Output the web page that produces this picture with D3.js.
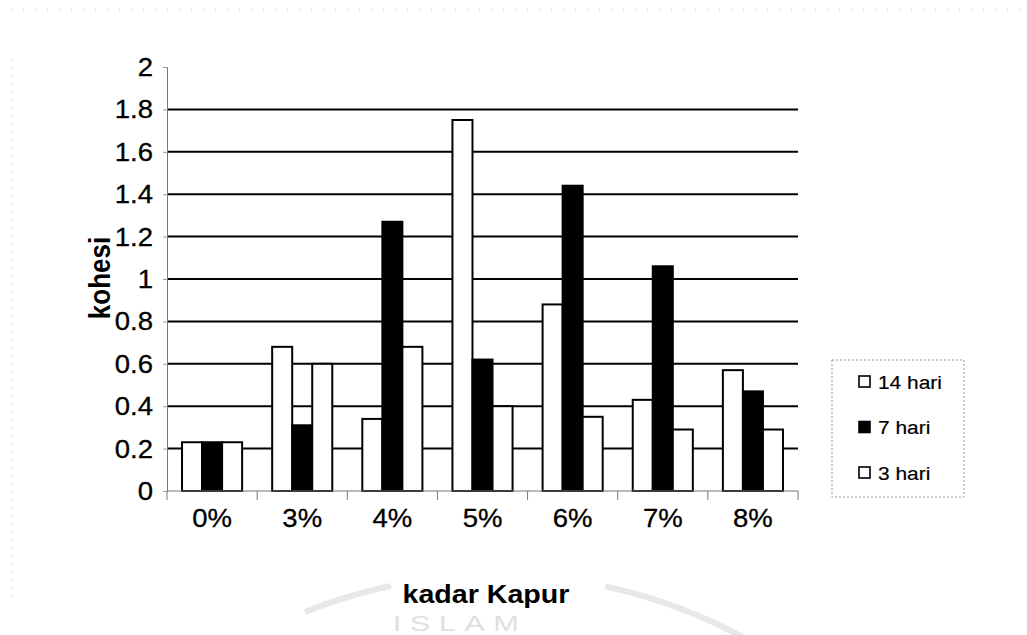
<!DOCTYPE html>
<html>
<head>
<meta charset="utf-8">
<script src="https://cdn.jsdelivr.net/npm/d3@7"></script>
<style>
  html, body { margin: 0; padding: 0; background: #fff; }
  svg { display: block; font-family: "Liberation Sans", Arial, sans-serif; }
</style>
</head>
<body>
<svg id="chart" width="1027" height="635"></svg>
<script>
// Cohesion per lime content, for three curing times
const categories = ["0%", "3%", "4%", "5%", "6%", "7%", "8%"];
const seriesNames = ["14 hari", "7 hari", "3 hari"];
const hari14 = [0.23, 0.68, 0.34, 1.75, 0.88, 0.43, 0.57];
const hari7  = [0.23, 0.31, 1.27, 0.62, 1.44, 1.06, 0.47];
const hari3  = [0.23, 0.60, 0.68, 0.40, 0.35, 0.29, 0.29];
const yTicks = [0, 0.2, 0.4, 0.6, 0.8, 1, 1.2, 1.4, 1.6, 1.8, 2];
const seriesFill = ["#ffffff", "#000000", "#ffffff"];

const seriesValues = [hari14, hari7, hari3];
const rows = categories.map((c, i) => ({
  cat: c,
  vals: seriesNames.map((s, j) => ({ key: s, value: seriesValues[j][i], fill: seriesFill[j] }))
}));

const svg = d3.select("#chart");
const plot = { left: 167, right: 798, top: 67, bottom: 491 };
const sx = 1.1; // glyph widening applied to all labels

const x = d3.scaleBand().domain(categories).range([plot.left, plot.right]).paddingInner(0).paddingOuter(0);
const xInner = d3.scaleBand().domain(seriesNames).range([0, x.bandwidth()]).paddingInner(0).paddingOuter(0.75);
const y = d3.scaleLinear().domain([0, 2]).range([plot.bottom, plot.top]);

// faint watermark behind the chart
const wm = svg.append("g").attr("fill", "none").attr("stroke", "#e8e8e8").attr("stroke-width", 6);
const ring = { cx: 497, cy: 1092, r: 517 };
const arcPath = (x0, x1) => {
  const pts = d3.range(x0, x1 + 1, 2).map(px => [px, ring.cy - Math.sqrt(ring.r * ring.r - (px - ring.cx) ** 2)]);
  return d3.line()(pts);
};
wm.append("path").attr("d", arcPath(305, 392));
wm.append("path").attr("d", arcPath(605, 760));
svg.append("text")
  .attr("transform", "translate(460,631) scale(1.4,1)")
  .attr("text-anchor", "middle")
  .attr("font-size", 22)
  .attr("letter-spacing", 6)
  .attr("fill", "#e0e0e0")
  .text("ISLAM");

// faint page edges
svg.append("line").attr("x1", 11).attr("x2", 1020).attr("y1", 10).attr("y2", 10)
  .attr("stroke", "#bbb").attr("stroke-dasharray", "1,11");
svg.append("line").attr("x1", 11).attr("x2", 11).attr("y1", 60).attr("y2", 600)
  .attr("stroke", "#bbb").attr("stroke-dasharray", "1,7");

// horizontal gridlines
svg.append("g").selectAll("line")
  .data(yTicks.filter(t => t > 0 && t < 2))
  .join("line")
  .attr("x1", plot.left).attr("x2", plot.right)
  .attr("y1", d => y(d)).attr("y2", d => y(d))
  .attr("stroke", "#000").attr("stroke-width", 2);

// y axis
const yAxis = d3.axisLeft(y).tickValues(yTicks).tickSize(4).tickFormat("");
const gy = svg.append("g").attr("transform", `translate(${plot.left},0)`).call(yAxis);
gy.select(".domain").attr("stroke", "#777").attr("stroke-width", 1);
gy.selectAll(".tick line").attr("stroke", "#999");

// y tick labels
svg.append("g").selectAll("text")
  .data(yTicks)
  .join("text")
  .attr("transform", d => `translate(153,${y(d)}) scale(${sx},1)`)
  .attr("text-anchor", "end")
  .attr("dy", "0.36em")
  .attr("font-size", 25)
  .attr("fill", "#000").attr("stroke", "#000").attr("stroke-width", 0.3)
  .text(d => d3.format("")(d));

// bars
const groups = svg.append("g").selectAll("g")
  .data(rows)
  .join("g")
  .attr("transform", d => `translate(${x(d.cat)},0)`);
groups.selectAll("rect")
  .data(d => d.vals)
  .join("rect")
  .attr("x", d => xInner(d.key))
  .attr("width", xInner.bandwidth())
  .attr("y", d => y(d.value))
  .attr("height", d => y(0) - y(d.value))
  .attr("fill", d => d.fill)
  .attr("stroke", "#000")
  .attr("stroke-width", 2);

// x axis
const boundaries = categories.map(c => x(c)).concat([plot.right]);
svg.append("line")
  .attr("x1", plot.left).attr("x2", plot.right)
  .attr("y1", y(0)).attr("y2", y(0))
  .attr("stroke", "#777").attr("stroke-width", 1);
svg.append("g").selectAll("line")
  .data(boundaries)
  .join("line")
  .attr("x1", d => d).attr("x2", d => d)
  .attr("y1", y(0)).attr("y2", y(0) + 9)
  .attr("stroke", "#777").attr("stroke-width", 1);

// x tick labels
svg.append("g").selectAll("text")
  .data(categories)
  .join("text")
  .attr("transform", d => `translate(${x(d) + x.bandwidth() / 2},527) scale(${sx},1)`)
  .attr("text-anchor", "middle")
  .attr("font-size", 25)
  .attr("stroke", "#000").attr("stroke-width", 0.3)
  .text(d => d);

// axis titles
svg.append("text")
  .attr("transform", `translate(486,603) scale(${sx},1)`)
  .attr("text-anchor", "middle")
  .attr("font-size", 26).attr("font-weight", "bold")
  .text("kadar Kapur");
svg.append("text")
  .attr("transform", `translate(110,278) rotate(-90) scale(1,${sx})`)
  .attr("text-anchor", "middle")
  .attr("font-size", 26).attr("font-weight", "bold")
  .text("kohesi");

// legend
const legend = svg.append("g");
legend.append("rect")
  .attr("x", 832).attr("y", 360).attr("width", 132).attr("height", 137)
  .attr("fill", "none").attr("stroke", "#999").attr("stroke-width", 1)
  .attr("stroke-dasharray", "2,2");
const legendY = d3.scalePoint().domain(seriesNames).range([382, 473]);
const items = legend.selectAll("g")
  .data(seriesNames.map((s, j) => ({ key: s, fill: seriesFill[j] })))
  .join("g")
  .attr("transform", d => `translate(0,${legendY(d.key)})`);
items.append("rect")
  .attr("x", 859).attr("y", -6).attr("width", 11).attr("height", 11)
  .attr("fill", d => d.fill).attr("stroke", "#000").attr("stroke-width", 1.6);
items.append("text")
  .attr("transform", `translate(878,0) scale(${sx},1)`)
  .attr("dy", "0.36em")
  .attr("font-size", 19)
  .attr("stroke", "#000").attr("stroke-width", 0.2)
  .text(d => d.key);
</script>
</body>
</html>
